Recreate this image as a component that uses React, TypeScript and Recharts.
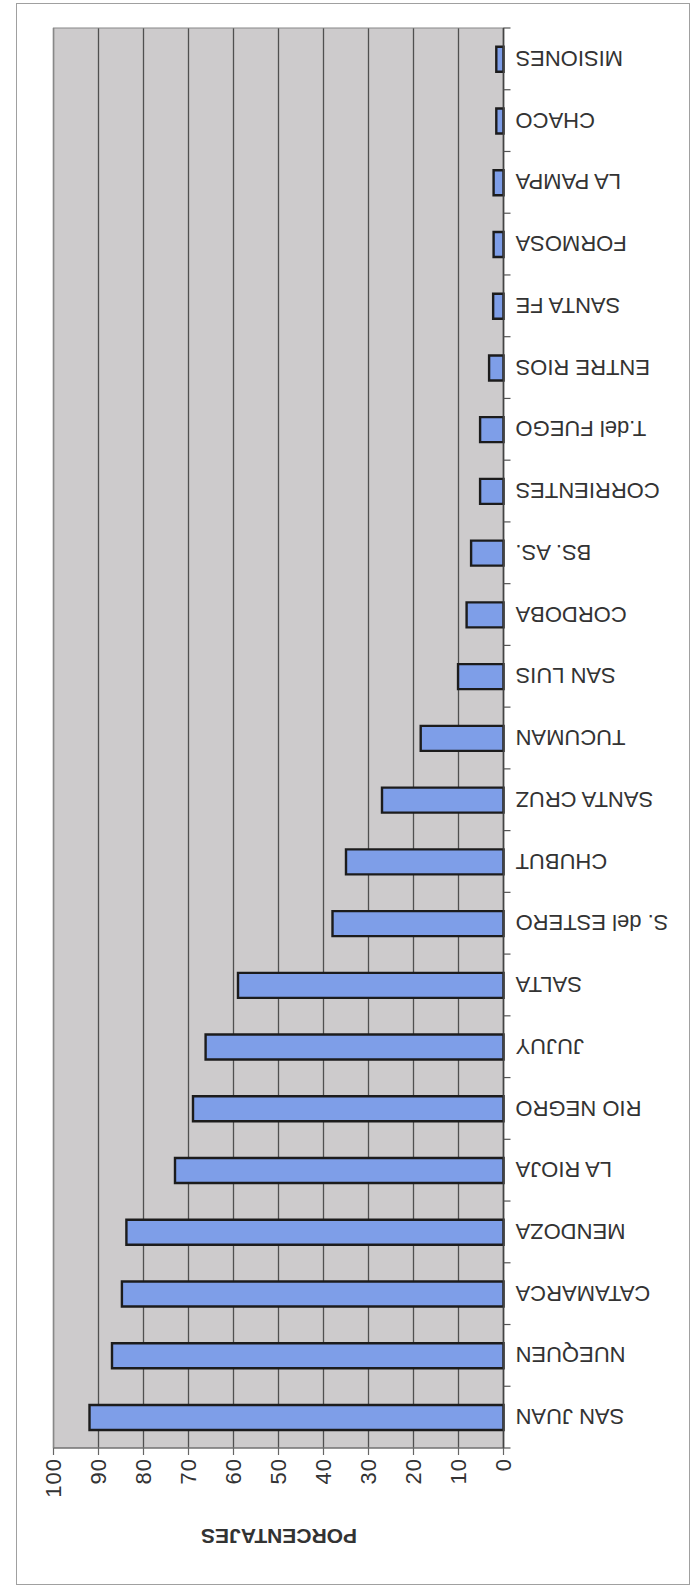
import { BarChart, Bar, XAxis, YAxis, CartesianGrid, ReferenceArea } from 'recharts';

// provinces, top to bottom before the page is turned upside down
const provincias = [
  'SAN JUAN', 'NUEQUEN', 'CATAMARCA', 'MENDOZA', 'LA RIOJA', 'RIO NEGRO', 'JUJUY',
  'SALTA', 'S. del ESTERO', 'CHUBUT', 'SANTA CRUZ', 'TUCUMAN', 'SAN LUIS', 'CORDOBA',
  'BS. AS.', 'CORRIENTES', 'T.del FUEGO', 'ENTRE RIOS', 'SANTA FE', 'FORMOSA',
  'LA PAMPA', 'CHACO', 'MISIONES',
];
const porcentajes = [
  92, 87, 84.8, 83.8, 73, 69, 66.2, 59, 38, 35, 27, 18.4, 10.1, 8.2, 7.2,
  5.2, 5.2, 3.2, 2.3, 2.2, 2.2, 1.6, 1.6,
];
const ticksX = [0, 10, 20, 30, 40, 50, 60, 70, 80, 90, 100];

const data = provincias.map((name, i) => ({ name, valor: porcentajes[i] }));

const W = 692;
const H = 1588;
const PLOT_TOP = 140;
const PLOT_BOTTOM = 1560;
const BAND = (PLOT_BOTTOM - PLOT_TOP) / provincias.length;
const TEXT = '#333';
const FONT = '"Liberation Sans", Arial, sans-serif';

// category tick: label plus a tick mark on the band boundary (Excel style)
function CatTick(props: any) {
  const { x, y, payload, index } = props;
  const axisX = x + 7;
  const top = y - BAND / 2;
  return (
    <g>
      <line x1={axisX} x2={axisX - 7} y1={top} y2={top} stroke="#555" strokeWidth={1.2} />
      {index === provincias.length - 1 && (
        <line x1={axisX} x2={axisX - 7} y1={top + BAND} y2={top + BAND} stroke="#555" strokeWidth={1.2} />
      )}
      <text x={x - 5} y={y} dy="0.36em" textAnchor="end" fontSize={22} fill={TEXT} fontFamily={FONT}>
        {payload.value}
      </text>
    </g>
  );
}

function NumTick(props: any) {
  const { x, y, payload } = props;
  return (
    <text
      x={x} y={y} dy="0.36em" textAnchor="end" fontSize={22} fill={TEXT} fontFamily={FONT}
      transform={`rotate(90 ${x} ${y})`} letterSpacing={1}
    >
      {payload.value}
    </text>
  );
}

export default function App() {
  return (
    <div style={{
      position: 'absolute', left: 0, top: 0, width: W, height: H, background: '#fff',
      transform: 'rotate(180deg)', fontFamily: FONT,
    }}>
      <div style={{
        position: 'absolute', left: 2, top: 3, width: 674, height: 1582,
        border: '1px solid #a0a0a0', boxSizing: 'border-box',
      }} />
      <div style={{
        position: 'absolute', left: 188, top: 40, width: 450, textAlign: 'center',
        fontSize: 21, fontWeight: 'bold', color: TEXT, lineHeight: '24px',
      }}>
        PORCENTAJES
      </div>
      <BarChart
        width={W} height={H} data={data} layout="vertical"
        margin={{ top: PLOT_TOP - 80, right: 53.5, bottom: H - PLOT_BOTTOM, left: 8.5 }}
        style={{ position: 'absolute', left: 0, top: 0 }}
      >
        <CartesianGrid horizontal={false} fill="#cdcbcc" fillOpacity={1} stroke="#505050" strokeWidth={1.3} />
        <XAxis
          type="number" orientation="top" domain={[0, 100]} ticks={ticksX} height={80}
          tickSize={7} tickMargin={3} tick={<NumTick />} interval={0}
          axisLine={{ stroke: '#666', strokeWidth: 1.2 }} tickLine={{ stroke: '#666', strokeWidth: 1.2 }}
        />
        <YAxis
          type="category" dataKey="name" width={180} tickSize={7} tickMargin={0}
          tick={<CatTick />} tickLine={false} interval={0}
          axisLine={{ stroke: '#444', strokeWidth: 1.5 }}
        />
        <ReferenceArea x1={0} x2={100} fill="none" stroke="#888" strokeWidth={1.2} />
        <Bar
          dataKey="valor" barSize={25} fill="#7e9ee8" stroke="#1c1c1c" strokeWidth={2.4}
          isAnimationActive={false}
        />
      </BarChart>
    </div>
  );
}
